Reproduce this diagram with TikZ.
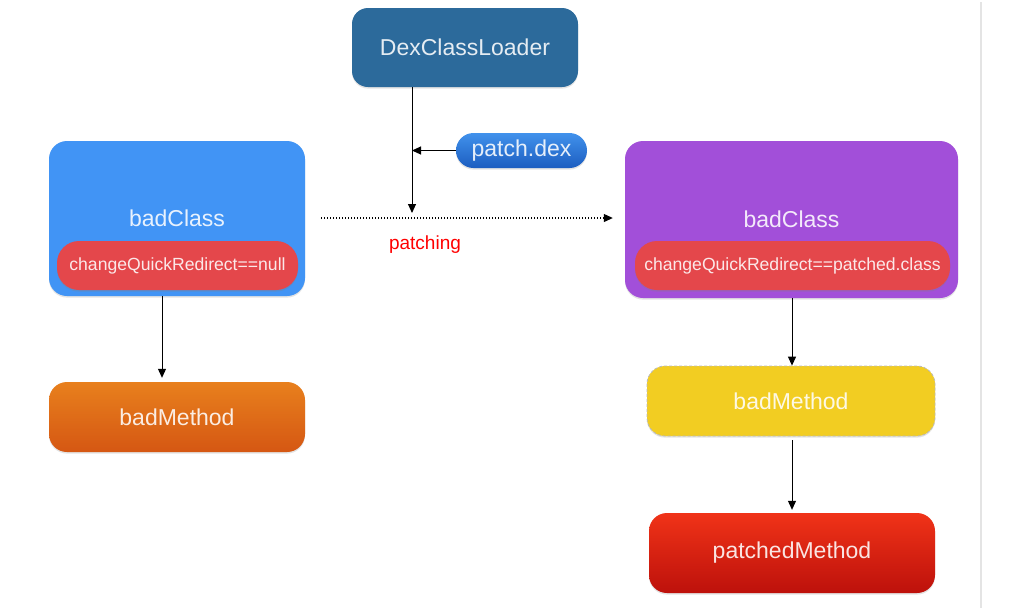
\documentclass[tikz,border=0pt]{standalone}
\usepackage{fontspec}
\setmainfont{Liberation Sans}
\usetikzlibrary{arrows.meta,shadows}
\definecolor{loaderblue}{HTML}{2C6A9B}
\definecolor{classblue}{HTML}{4194F5}
\definecolor{classpurple}{HTML}{A24FD9}
\definecolor{flagred}{HTML}{E4474B}
\definecolor{methyellow}{HTML}{F2CD22}
\definecolor{dexA}{HTML}{4192EC}
\definecolor{dexB}{HTML}{1C5DC0}
\definecolor{orangeA}{HTML}{E8801D}
\definecolor{orangeB}{HTML}{D55713}
\definecolor{redA}{HTML}{F03318}
\definecolor{redB}{HTML}{BD110B}
\definecolor{rulegray}{HTML}{E4E4E4}
\tikzset{
  x=1pt, y=-1pt,
  box/.style={rectangle, rounded corners=18pt, inner sep=0pt,
    text=white, text opacity=0.88,
    font=\fontsize{23}{27}\selectfont,
    drop shadow={opacity=0.22, shadow xshift=0pt, shadow yshift=-1.6pt}},
  flag/.style={rectangle, rounded corners=22pt, inner sep=0pt, fill=flagred,
    text=white, text opacity=0.88, font=\fontsize{17.6}{21}\selectfont,
    drop shadow={opacity=0.3, shadow xshift=0pt, shadow yshift=-1.6pt}},
  arr/.style={-{Triangle[length=9pt,width=8pt]}, line width=1pt, black},
}
\begin{document}
\begin{tikzpicture}
  \useasboundingbox (0,0) rectangle (1012,614);
  \fill[white] (0,0) rectangle (1012,614);
  % thin rule at the right
  \draw[rulegray, line width=1.2pt] (981,2) -- (981,608);

  % loader and patch file
  \node[box, fill=loaderblue, rounded corners=16pt, minimum width=226pt, minimum height=79pt]
    (dcl) at (465,47.5) {DexClassLoader};
  \node[box, rounded corners=17.5pt, top color=dexA, bottom color=dexB,
    minimum width=131pt, minimum height=35pt] (patch) at (521.5,150.5) {patch.dex};

  % class before patching
  \node[box, fill=classblue, minimum width=256pt, minimum height=155pt]
    (lclass) at (177,218.5) {badClass};
  \node[flag, minimum width=241pt, minimum height=49pt]
    (lflag) at (177.5,265.5) {changeQuickRedirect==null};
  \node[box, top color=orangeA, bottom color=orangeB, minimum width=256pt, minimum height=70pt]
    (lmeth) at (177,417) {badMethod};

  % class after patching
  \node[box, fill=classpurple, minimum width=333pt, minimum height=157pt]
    (rclass) at (791.5,219.5) {badClass};
  \node[flag, minimum width=315pt, minimum height=49pt]
    (rflag) at (792.5,265.5) {changeQuickRedirect==patched.class};
  \node[box, fill=methyellow, draw=gray!55, densely dashed, line width=0.8pt,
    drop shadow={opacity=0}, minimum width=288pt, minimum height=70pt]
    (rmeth) at (791,401) {badMethod};
  \node[box, top color=redA, bottom color=redB, minimum width=286pt, minimum height=80pt]
    (pmeth) at (792,553) {patchedMethod};

  % patching label
  \node[text=red, font=\fontsize{19}{23}\selectfont] (plabel) at (425,245) {patching};

  % connectors
  \coordinate (join) at (412,213);
  \coordinate (dstart) at (321,218);
  \coordinate (ldown) at (162,296);
  \coordinate (rdown) at (792,298);
  \draw[arr] (join |- dcl.south) -- (join);
  \draw[arr] (patch.west) -- (patch.west -| join);
  \draw[arr, dotted, line width=1.1pt] (dstart) -- ([xshift=-12pt]rclass.west |- dstart);
  \draw[arr] (ldown) -- ([yshift=4pt]lmeth.north -| ldown);
  \draw[arr] (rdown) -- (rmeth.north -| rdown);
  \draw[arr] ([yshift=-4pt]rmeth.south -| rdown) -- ([yshift=3pt]pmeth.north -| rdown);
\end{tikzpicture}
\end{document}
